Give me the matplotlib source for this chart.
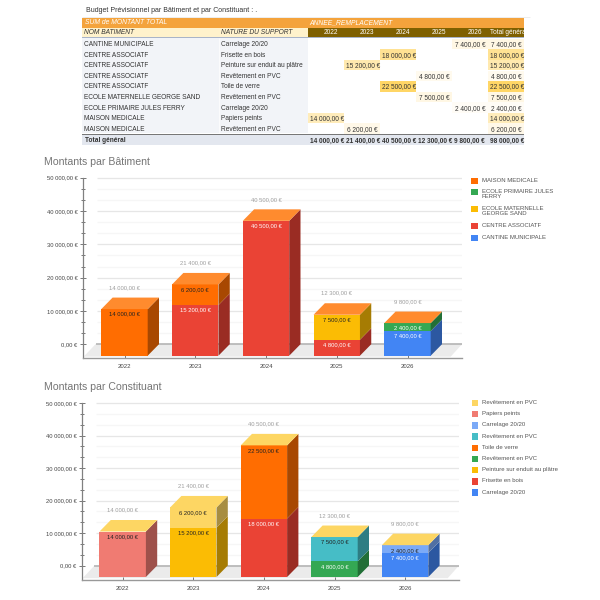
import numpy as np
import matplotlib
matplotlib.use('Agg')
import matplotlib.pyplot as plt
from matplotlib.colors import LinearSegmentedColormap
from matplotlib.patches import Polygon, Rectangle

plt.rcParams['font.family'] = ['Liberation Sans', 'DejaVu Sans']

annees = ['2022', '2023', '2024', '2025', '2026']

# table
titre_table = 'Budget Prévisionnel par Bâtiment et par Constituant : .'
batiments = ['CANTINE MUNICIPALE', 'CENTRE ASSOCIATF', 'CENTRE ASSOCIATF', 'CENTRE ASSOCIATF',
             'CENTRE ASSOCIATF', 'ECOLE MATERNELLE GEORGE SAND', 'ECOLE PRIMAIRE JULES FERRY',
             'MAISON MEDICALE', 'MAISON MEDICALE']
supports = ['Carrelage 20/20', 'Frisette en bois', 'Peinture sur enduit au plâtre', 'Revêtement en PVC',
            'Toile de verre', 'Revêtement en PVC', 'Carrelage 20/20', 'Papiers peints', 'Revêtement en PVC']
table_annee = [4, 2, 1, 3, 2, 3, 4, 0, 1]
table_montant = [7400, 18000, 15200, 4800, 22500, 7500, 2400, 14000, 6200]
totaux = [14000, 21400, 40500, 12300, 9800]

# chart 1, bottom of the stack first
noms_bat = ['CANTINE MUNICIPALE', 'CENTRE ASSOCIATF', 'ECOLE MATERNELLE\nGEORGE SAND',
            'ECOLE PRIMAIRE JULES\nFERRY', 'MAISON MEDICALE']
cantine = [0, 0, 0, 0, 7400]
centre = [0, 15200, 40500, 4800, 0]
maternelle = [0, 0, 0, 7500, 0]
primaire = [0, 0, 0, 0, 2400]
maison = [14000, 6200, 0, 0, 0]
couleurs_bat = ['#4285F4', '#EA4335', '#FBBC04', '#34A853', '#FF6D01']
texte_bat = ['white', 'white', '#222222', 'white', '#222222']

# chart 2
noms_con = ['Carrelage 20/20', 'Frisette en bois', 'Peinture sur enduit au plâtre', 'Revêtement en PVC',
            'Toile de verre', 'Revêtement en PVC', 'Carrelage 20/20', 'Papiers peints', 'Revêtement en PVC']
carrelage_a = [0, 0, 0, 0, 7400]
frisette = [0, 0, 18000, 0, 0]
peinture = [0, 15200, 0, 0, 0]
pvc_a = [0, 0, 0, 4800, 0]
toile = [0, 0, 22500, 0, 0]
pvc_b = [0, 0, 0, 7500, 0]
carrelage_b = [0, 0, 0, 0, 2400]
papiers = [14000, 0, 0, 0, 0]
pvc_c = [0, 6200, 0, 0, 0]
couleurs_con = ['#4285F4', '#EA4335', '#FBBC04', '#34A853', '#FF6D01', '#46BDC6', '#7BAAF7', '#F07B72', '#FDD663']
texte_con = ['white', 'white', '#222222', 'white', '#222222', '#222222', '#222222', '#222222', '#222222']

PX = 600.0


def euros(v):
    return f'{v:,.2f}'.replace(',', ' ').replace('.', ',') + ' €'


def assombrir(c, f=0.66):
    return tuple(x * f for x in matplotlib.colors.to_rgb(c))


def dessine_graphique(fig, left, right, bottom, top, x0, pas, base, px_val, series, couleurs, textes, dessus):
    # left/right/bottom/top are pixels in the 600x600 image
    ax = fig.add_axes([left / PX, 1 - bottom / PX, (right - left) / PX, (bottom - top) / PX])
    ax.patch.set_alpha(0)
    ax.set_xlim((left - x0) / pas, (right - x0) / pas)
    prof_y = 11.5 / px_val
    prof_x = 11.3 / pas
    ax.set_ylim((base - bottom) / px_val, (base - top) / px_val)
    largeur = 46.4 / pas
    y_bas = ax.get_ylim()[0]
    xmin, xmax = ax.get_xlim()

    # floor and back wall
    ax.add_patch(Polygon([(xmin + 1 / pas, y_bas * 0.4), (xmax - prof_x, y_bas * 0.4), (xmax, prof_y),
                          (xmin + prof_x + 1.5 / pas, prof_y)], color='#EBEBEB', lw=0, zorder=1))
    for v in np.arange(0, 50001, 10000 / 3):
        majeur = abs(v / 10000 - round(v / 10000)) < 1e-6
        ax.hlines(v + prof_y, xmin + prof_x + 3 / pas, xmax, color='#E6E6E6' if majeur else '#F6F6F6', lw=0.9, zorder=1)
    ax.hlines(prof_y, xmin + prof_x + 1.5 / pas, xmax, color='#B5B5B5', lw=1.2, zorder=2)

    for i in range(len(annees)):
        bas = 0
        for s, c, t in zip(series, couleurs, textes):
            v = s[i]
            if v == 0:
                continue
            d = i + largeur / 2
            ax.bar(i, v, largeur, bottom=bas, color=c, lw=0, zorder=3)
            ax.add_patch(Polygon([(d, bas), (d + prof_x, bas + prof_y), (d + prof_x, bas + v + prof_y), (d, bas + v)],
                                 color=assombrir(c), lw=0, zorder=3))
            ax.annotate(euros(v), (i, bas + v), xytext=(0, -3.7), textcoords='offset points', ha='center', va='center',
                        fontsize=4.2, color=t, zorder=5)
            bas += v
        g, d = i - largeur / 2, i + largeur / 2
        ax.add_patch(Polygon([(g, bas), (d, bas), (d + prof_x, bas + prof_y), (g + prof_x, bas + prof_y)],
                             color=dessus, lw=0, zorder=4))
        ax.annotate(euros(bas), (i, bas + prof_y), xytext=(0, 7.2), textcoords='offset points', ha='center',
                    va='center', fontsize=4.2, color='#9E9E9E', zorder=5)

    for s in ['top', 'right']:
        ax.spines[s].set_visible(False)
    ax.spines['left'].set_color('#808080')
    ax.spines['left'].set_linewidth(0.9)
    ax.spines['bottom'].set_color('#999999')
    ax.spines['bottom'].set_linewidth(1.0)
    ax.spines['left'].set_bounds(y_bas, 50000 + prof_y)

    maj = np.arange(0, 50001, 10000)
    ax.set_yticks(maj + prof_y)
    ax.set_yticklabels([euros(v) for v in maj], fontsize=4.2, color='#444444')
    ax.set_yticks(np.arange(0, 50001, 10000 / 3) + prof_y, minor=True)
    ax.tick_params(axis='y', which='major', direction='inout', length=4.4, width=0.7, color='#777777', pad=1.5)
    ax.tick_params(axis='y', which='minor', direction='inout', length=2.2, width=0.7, color='#777777')
    ax.set_xticks(range(len(annees)))
    ax.set_xticklabels(annees, fontsize=4.3, color='#444444')
    ax.tick_params(axis='x', direction='in', length=2.4, width=0.7, color='#777777', pad=4.5)
    return ax


fig = plt.figure(figsize=(6, 6), dpi=100, facecolor='white')

dessine_graphique(fig, 82.7, 462, 358, 165, 124.5, 70.75, 355.7, 33.3 / 10000,
                  [cantine, centre, maternelle, primaire, maison], couleurs_bat, texte_bat, '#FF8B2E')
dessine_graphique(fig, 81.7, 459, 580, 390, 122.7, 70.6, 577, 32.5 / 10000,
                  [carrelage_a, frisette, peinture, pvc_a, toile, pvc_b, carrelage_b, papiers, pvc_c],
                  couleurs_con, texte_con, '#FDD663')

# overlay in image pixels: table, titles, legends
ov = fig.add_axes([0, 0, 1, 1])
ov.set_xlim(0, PX)
ov.set_ylim(PX, 0)
ov.axis('off')
ov.patch.set_alpha(0)


def boite(x0, y0, x1, y1, c, z=1):
    ov.add_patch(Rectangle((x0, y0), x1 - x0, y1 - y0, color=c, lw=0, zorder=z))


ov.text(86, 10.5, titre_table, fontsize=5.0, color='#333333', va='center')

cols = [307.7, 343.7, 380, 415.7, 451.7, 487.7, 524]
echelle = LinearSegmentedColormap.from_list('chaud', ['#FFFFFF', '#FFF3D6', '#FFD666'])

ov.hlines(17, 82.3, 530, color='#E6E6E6', lw=0.5)
boite(82.3, 17.5, 524, 28, '#F4A33C')
boite(82.3, 28, 307.7, 37.3, '#FFF2CC')
boite(307.7, 28, 524, 37.3, '#7F6000')
boite(82.3, 37.3, 524, 38.4, '#A9B4C8')
boite(82.3, 38.4, 307.7, 133.5, '#F2F4F8')
ov.vlines(218.5, 38.4, 133.5, color='white', lw=0.5, zorder=2)
boite(82.3, 133.5, 524, 135, '#777777', 2)
boite(82.3, 135, 524, 145.3, '#E3E7EF')

ov.text(85, 23, 'SUM de MONTANT TOTAL', fontsize=4.9, style='italic', color='white', va='center')
ov.text(309, 23, 'ANNEE_REMPLACEMENT', fontsize=4.9, style='italic', color='white', va='center')
ov.text(84.5, 33, 'NOM BATIMENT', fontsize=4.8, style='italic', color='#333333', va='center')
ov.text(220.7, 33, 'NATURE DU SUPPORT', fontsize=4.8, style='italic', color='#333333', va='center')
for j, a in enumerate(annees):
    ov.text(cols[j + 1] - 6, 33, a, fontsize=4.7, color='white', ha='right', va='center')
t = ov.text(489.5, 33, 'Total général', fontsize=4.7, color='white', va='center')
t.set_clip_path(Rectangle((487.7, 28), 36.3, 9.3, transform=ov.transData))

haut_ligne = 10.58
for r in range(len(batiments)):
    yc = 44 + r * haut_ligne
    ov.text(84.5, yc + 0.6, batiments[r], fontsize=4.7, color='#333333', va='center')
    ov.text(220.7, yc + 0.6, supports[r], fontsize=4.7, color='#333333', va='center')
    j = table_annee[r]
    v = table_montant[r]
    for jj in (j, 5):
        g, d = cols[jj], cols[jj + 1]
        boite(g, yc - 5.2, d, yc + 5.2, echelle(v / 22500))
        if v >= 10000:
            t = ov.text(g + 2, yc + 0.6, euros(v), fontsize=4.7, color='#333333', va='center')
        else:
            t = ov.text(d - 2, yc + 0.6, euros(v), fontsize=4.7, color='#333333', va='center', ha='right')
        t.set_clip_path(Rectangle((g, yc - 6), d - g, 12, transform=ov.transData))

ov.text(85, 141, 'Total général', fontsize=4.7, weight='bold', color='#333333', va='center')
for j, v in enumerate(totaux + [sum(totaux)]):
    g, d = cols[j], cols[j + 1]
    t = ov.text(g + 2, 141, euros(v), fontsize=4.7, weight='bold', color='#333333', va='center')
    t.set_clip_path(Rectangle((g, 135), d - g, 10, transform=ov.transData))

ov.text(44, 162, 'Montants par Bâtiment', fontsize=7.6, color='#757575', va='center')
ov.text(43.5, 387, 'Montants par Constituant', fontsize=7.6, color='#757575', va='center')

# legends, top entry first like the reference
pos_bat = [180.7, 192, 209, 226, 237.7]
for nom, c, y in zip(noms_bat[::-1], couleurs_bat[::-1], pos_bat):
    boite(471, y - 3.2, 477.5, y + 3.2, c)
    ov.text(481.7, y - 3.0, nom, fontsize=4.3, color='#555555', va='top', linespacing=1.0)

pos_con = [403 + k * 11.2 for k in range(9)]
for nom, c, y in zip(noms_con[::-1], couleurs_con[::-1], pos_con):
    boite(471.5, y - 3.2, 478, y + 3.2, c)
    ov.text(481.7, y - 3.0, nom, fontsize=4.3, color='#555555', va='top', linespacing=1.0)

fig.savefig('out.png', dpi=100)
